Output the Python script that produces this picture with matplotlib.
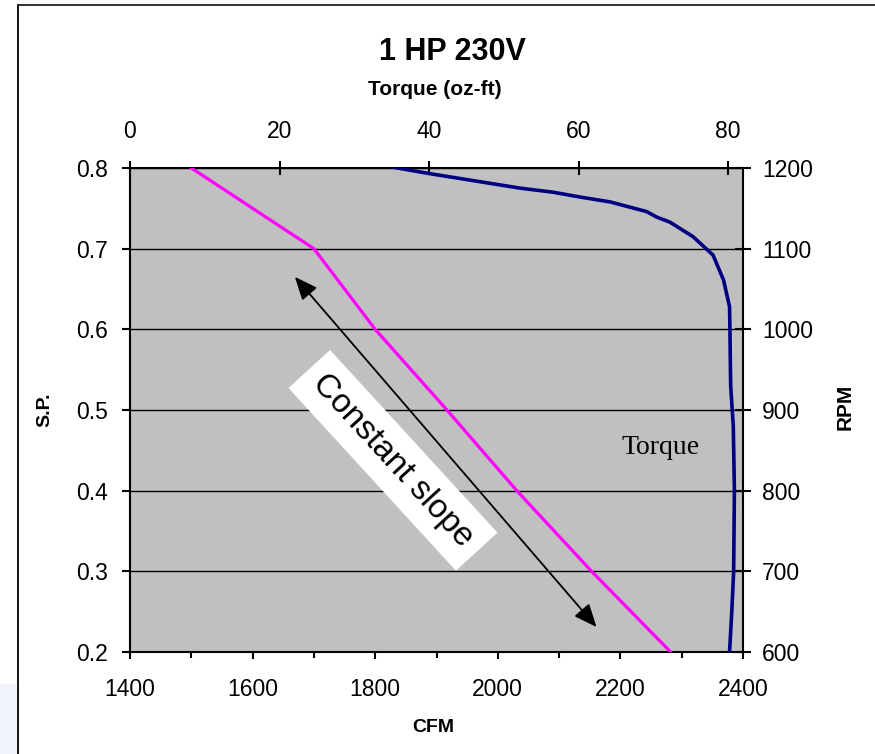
import matplotlib
matplotlib.use('Agg')
import matplotlib.pyplot as plt
from matplotlib.lines import Line2D
from matplotlib.patches import Rectangle
from matplotlib.ticker import MultipleLocator, FormatStrFormatter

plt.rcParams['font.family'] = ['Liberation Sans', 'DejaVu Sans']

# Fan curve: static pressure against airflow
cfm = [1500, 1700, 1800, 1917, 2031, 2153, 2282]
sp = [0.8, 0.7, 0.6, 0.5, 0.4, 0.3, 0.2]

# Motor curve: torque against speed
torque = [35.2, 40.1, 52.2, 56.6, 60.2, 64.2, 69.1, 70.5, 72.2, 75.3, 78.0,
          79.4, 80.2, 80.25, 80.35, 80.7, 80.85, 80.75, 80.5, 80.2]
rpm = [1201, 1193, 1175, 1170, 1164, 1158, 1146, 1139, 1133, 1115, 1092,
       1061, 1028, 1000, 930, 880, 800, 700, 650, 600]

W, H = 875, 754
fig = plt.figure(figsize=(W / 100, H / 100), dpi=100)

# faint blue corner outside the chart frame
fig.add_artist(Rectangle((0, 0), 17 / W, 70 / H, transform=fig.transFigure,
                         facecolor='#f2f5fb', edgecolor='none', zorder=0))
# chart frame (cut at right and bottom)
fig.add_artist(Line2D([18 / W, 18 / W], [0, 1 - 5 / H], transform=fig.transFigure,
                      color='black', lw=1.3))
fig.add_artist(Line2D([18 / W, 1], [1 - 5 / H, 1 - 5 / H], transform=fig.transFigure,
                      color='#222222', lw=1.3))

rect = [130 / W, 1 - 652 / H, 613 / W, 484 / H]
ax = fig.add_axes(rect)
ax.set_facecolor('#c0c0c0')
ax.plot(cfm, sp, color='#ff00ff', lw=2.3, zorder=3)
ax.set_xlim(1400, 2400)
ax.set_ylim(0.2, 0.8)
ax.xaxis.set_major_locator(MultipleLocator(200))
ax.xaxis.set_minor_locator(MultipleLocator(100))
ax.yaxis.set_major_locator(MultipleLocator(0.1))
ax.yaxis.set_major_formatter(FormatStrFormatter('%.1f'))
ax.yaxis.grid(True, color='black', lw=1.0)
ax.set_axisbelow(True)
for s in ax.spines.values():
    s.set_linewidth(1.5)
ax.tick_params(axis='x', which='major', direction='out', length=5, width=1.5,
               labelsize=16.5, pad=14)
ax.tick_params(axis='x', which='minor', direction='out', length=4, width=1.5)
ax.tick_params(axis='y', direction='out', length=6, width=1.5, labelsize=16.5, pad=10)

# double arrow and notes
ax.annotate('', xy=(1669, 0.665), xytext=(2161, 0.231),
            arrowprops=dict(arrowstyle='<|-|>,head_length=0.7,head_width=0.3',
                            color='black', lw=1.3, mutation_scale=20,
                            shrinkA=0, shrinkB=0), zorder=4)
ax.text(1829, 0.4376, 'Constant slope', rotation=-47.5, rotation_mode='anchor',
        ha='center', va='center', fontsize=24, color='black', zorder=5,
        bbox=dict(boxstyle='square,pad=0.38', facecolor='white', edgecolor='none'))
ax.text(2266, 0.454, 'Torque', family='Liberation Serif', fontsize=20,
        ha='center', va='center', zorder=5)

# torque / rpm axes
ax2 = fig.add_axes(rect, frameon=False)
ax2.patch.set_visible(False)
ax2.plot(torque, rpm, color='#000080', lw=2.6, zorder=3)
ax2.set_xlim(0, 82)
ax2.set_ylim(600, 1200)
ax2.xaxis.tick_top()
ax2.yaxis.tick_right()
ax2.xaxis.set_major_locator(MultipleLocator(20))
ax2.yaxis.set_major_locator(MultipleLocator(100))
ax2.tick_params(axis='x', direction='inout', length=10, width=1.5, labelsize=16.5, pad=13)
ax2.tick_params(axis='y', direction='inout', length=11, width=1.5, labelsize=16.5, pad=8)

# titles
fig.text(452 / W, 1 - 60 / H, '1 HP 230V', ha='center', va='baseline',
         fontsize=22, fontweight='bold')
fig.text(435 / W, 1 - 95 / H, 'Torque (oz-ft)', ha='center', va='baseline',
         fontsize=15, fontweight='bold')
fig.text(433 / W, 1 - 727 / H, 'CFM', ha='center', va='center',
         fontsize=14, fontweight='bold')
fig.text(45 / W, 1 - 410 / H, 'S.P.', ha='center', va='center', rotation=90,
         fontsize=14, fontweight='bold')
fig.text(845 / W, 1 - 407 / H, 'RPM', ha='center', va='center', rotation=90,
         fontsize=15, fontweight='bold')

fig.savefig('out.png', dpi=100)
